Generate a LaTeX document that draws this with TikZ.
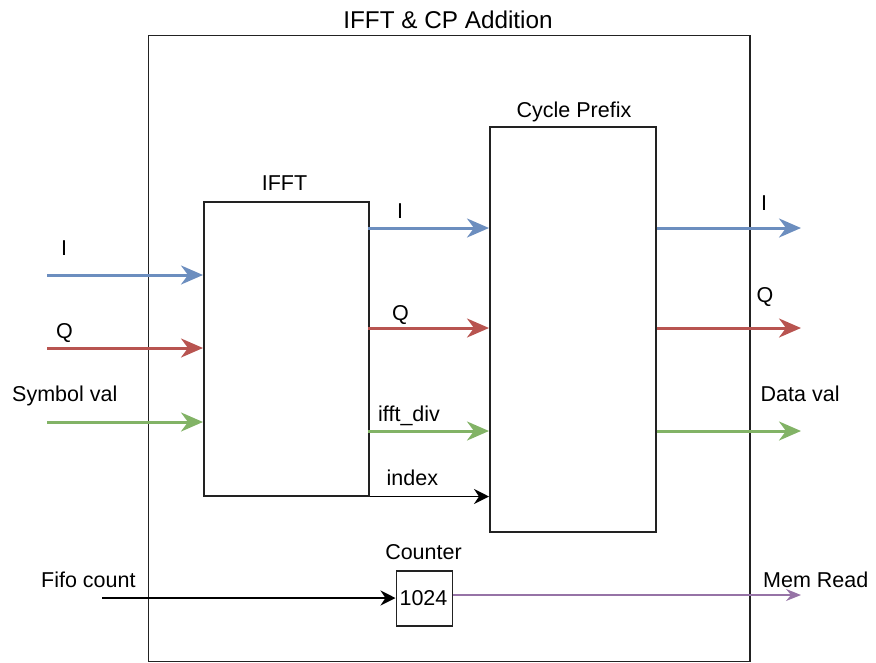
\documentclass[tikz,border=0pt]{standalone}
\usepackage{fontspec}
\setmainfont{Liberation Sans}
\usetikzlibrary{arrows.meta}
\definecolor{cblue}{HTML}{6C8EBF}
\definecolor{cred}{HTML}{B85450}
\definecolor{cgreen}{HTML}{82B366}
\definecolor{cpurple}{HTML}{9673A6}
\definecolor{cline}{HTML}{222222}
\begin{document}
\begin{tikzpicture}[x=1pt,y=-1pt,
  box/.style={draw=cline, line width=1.5pt, inner sep=0pt, anchor=north west},
  lbl/.style={inner sep=0pt, anchor=base west, font=\fontsize{21.5}{26}\selectfont},
  clbl/.style={inner sep=0pt, anchor=base, font=\fontsize{21.5}{26}\selectfont},
  sig/.style={line width=3pt, -{Stealth[length=22pt,width=19pt,inset=7pt]}},
  ctl/.style={draw=black, line width=1.6pt, -{Stealth[length=15pt,width=15pt,inset=5pt]}},
  rd/.style={draw=cpurple, line width=1.4pt, -{Stealth[length=15pt,width=12pt,inset=5pt]}}]
\useasboundingbox (0,0) rectangle (876,662);
% boxes
\node[box, minimum width=601.5pt, minimum height=626pt] (outer) at (147.5,34.5) {};
\node[box, minimum width=165pt, minimum height=294pt] (ifft) at (203,201) {};
\node[box, minimum width=166pt, minimum height=405pt] (cp) at (489,126) {};
\node[box, minimum width=56pt, minimum height=55pt] (cnt) at (395.5,570) {};
\node[inner sep=0pt, font=\fontsize{21.5}{26}\selectfont] (cntv) at (423.5,598) {1024};
% titles
\node[inner sep=0pt, anchor=base, font=\fontsize{24.3}{29}\selectfont] (title) at (448,28) {IFFT \& CP Addition};
\node[clbl] (ifftl) at (284.5,190.5) {IFFT};
\node[clbl] (cpl) at (574,117) {Cycle Prefix};
\node[clbl] (cntl) at (423.5,559) {Counter};
% free ends
\coordinate (inI) at (47,275);
\coordinate (inQ) at (47,348);
\coordinate (inS) at (47,422);
\coordinate (inF) at (102,598);
\coordinate (outI) at (801,228);
\coordinate (outQ) at (801,328);
\coordinate (outD) at (801,431);
\coordinate (outM) at (801,595);
\coordinate (midI) at (368,228);
\coordinate (midQ) at (368,328);
\coordinate (midD) at (368,431);
% inputs
\draw[sig, cblue] (inI) -- (inI -| ifft.west);
\draw[sig, cred] (inQ) -- (inQ -| ifft.west);
\draw[sig, cgreen] (inS) -- (inS -| ifft.west);
% ifft -> cp
\draw[sig, cblue] (midI) -- (midI -| cp.west);
\draw[sig, cred] (midQ) -- (midQ -| cp.west);
\draw[sig, cgreen] (midD) -- (midD -| cp.west);
\draw[ctl] (ifft.south east) -- (ifft.south east -| cp.west);
% outputs
\draw[sig, cblue] (outI -| cp.east) -- (outI);
\draw[sig, cred] (outQ -| cp.east) -- (outQ);
\draw[sig, cgreen] (outD -| cp.east) -- (outD);
% counter
\draw[ctl] (inF) -- (inF -| cnt.west);
\draw[rd] (outM -| cnt.east) -- (outM);
% labels
\node[lbl] (lI) at (61,255) {I};
\node[lbl] (lQ) at (56,338) {Q};
\node[lbl] (lS) at (12,401) {Symbol val};
\node[lbl] (mI) at (397,218) {I};
\node[lbl] (mQ) at (392,320) {Q};
\node[lbl] (mD) at (378,421.5) {ifft\_div};
\node[lbl] (mX) at (386.5,485) {index};
\node[lbl] (oI) at (761,210) {I};
\node[lbl] (oQ) at (756.5,302) {Q};
\node[lbl] (oD) at (760.5,401.5) {Data val};
\node[lbl] (lF) at (41,587) {Fifo count};
\node[lbl] (oM) at (763,587) {Mem Read};
\end{tikzpicture}
\end{document}
